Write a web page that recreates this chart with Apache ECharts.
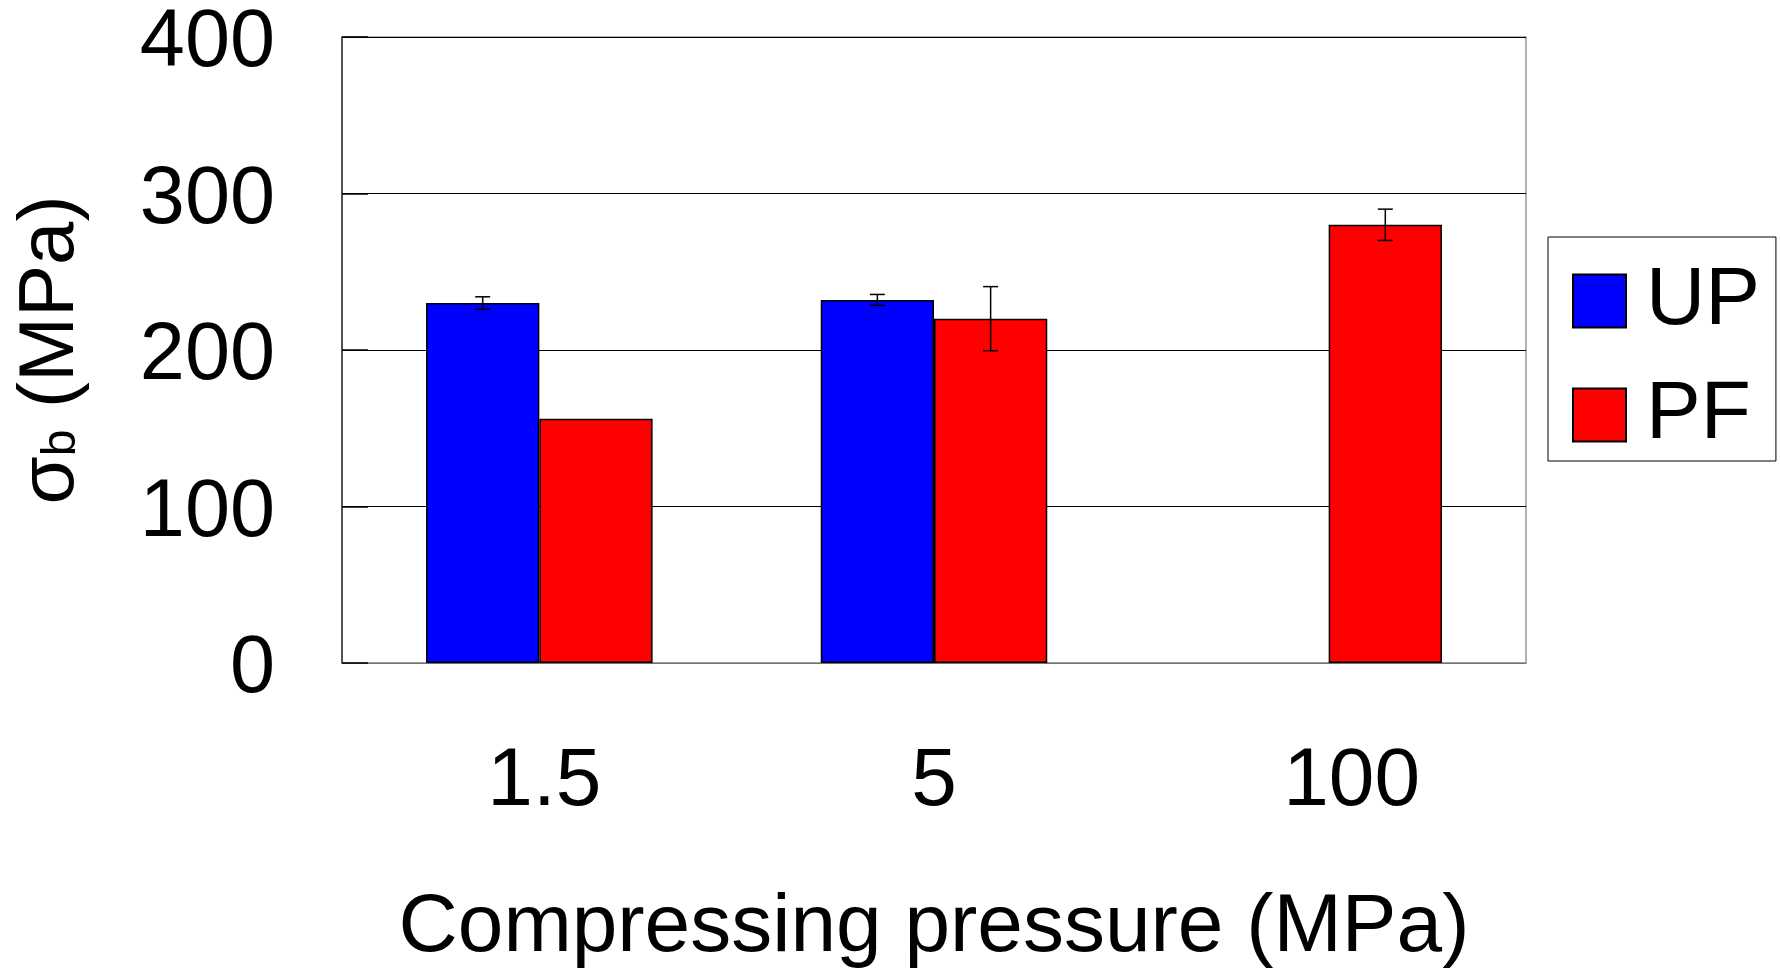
<!DOCTYPE html>
<html>
<head>
<meta charset="utf-8">
<script src="https://cdn.jsdelivr.net/npm/echarts@6/dist/echarts.min.js"></script>
<style>
html,body{margin:0;padding:0;background:#fff;}
#chart{width:1780px;height:968px;}
</style>
</head>
<body>
<div id="chart"></div>
<script>
var categories = ['1.5', '5', '100'];
var upValues = [230, 232, null];
var pfValues = [156, 220, 280];
var upErrors = [4, 3.5, null];
var pfErrors = [null, 20.5, 10];
var yTicks = [0, 100, 200, 300, 400];

var FONT = '"Liberation Sans", Arial, sans-serif';
var catGap = 0.426;

function errorSeries(values, errors, side) {
  var data = [];
  for (var i = 0; i < categories.length; i++) {
    if (values[i] != null && errors[i] != null) {
      data.push([i, values[i] - errors[i], values[i] + errors[i]]);
    }
  }
  return {
    type: 'custom',
    z: 10,
    silent: true,
    data: data,
    renderItem: function (params, api) {
      var idx = api.value(0);
      var band = api.size([1, 0])[0];
      var offset = side * band * (1 - catGap) / 4;
      var lo = api.coord([idx, api.value(1)]);
      var hi = api.coord([idx, api.value(2)]);
      var x = lo[0] + offset;
      var cap = 7.5;
      var st = {stroke: '#000', lineWidth: 1.5};
      return {
        type: 'group',
        children: [
          {type: 'line', shape: {x1: x, y1: lo[1], x2: x, y2: hi[1]}, style: st},
          {type: 'line', shape: {x1: x - cap, y1: lo[1], x2: x + cap, y2: lo[1]}, style: st},
          {type: 'line', shape: {x1: x - cap, y1: hi[1], x2: x + cap, y2: hi[1]}, style: st}
        ]
      };
    }
  };
}

var labelRich = {
  a: {fontSize: 82, fontFamily: FONT, color: '#000', padding: [0, 0, 0, 10]},
  m: {fontSize: 82, fontFamily: FONT, color: '#000'},
  c: {fontSize: 82, fontFamily: FONT, color: '#000', padding: [0, 0, 0, 46]}
};
var labelKey = ['a', 'm', 'c'];

var chart = echarts.init(document.getElementById('chart'), null, {renderer: 'canvas'});
chart.setOption({
  backgroundColor: '#fff',
  animation: false,
  textStyle: {fontFamily: FONT, color: '#000'},
  grid: {
    left: 342, right: 254, top: 37, bottom: 305,
    containLabel: false,
    outerBoundsMode: 'none',
    show: true, borderColor: '#999', borderWidth: 1.5
  },
  legend: {
    orient: 'vertical',
    left: 1548, top: 237,
    padding: [23, 16, 5, 24],
    backgroundColor: '#fff',
    borderColor: '#000',
    borderWidth: 1,
    itemWidth: 53, itemHeight: 53, itemGap: 32,
    icon: 'rect',
    textStyle: {fontSize: 82, fontFamily: FONT, color: '#000', padding: [0, 0, 0, 15]},
    data: ['UP', 'PF']
  },
  xAxis: {
    type: 'category',
    data: categories,
    axisLine: {show: true, lineStyle: {color: '#999', width: 1.5}},
    axisTick: {show: false},
    axisLabel: {
      fontSize: 82, fontFamily: FONT, color: '#000', margin: 78,
      formatter: function (v, i) { return '{' + labelKey[i] + '|' + v + '}'; },
      rich: labelRich
    },
    name: 'Compressing pressure (MPa)',
    nameLocation: 'middle',
    nameGap: 224,
    nameTextStyle: {fontSize: 82, fontFamily: FONT, color: '#000'}
  },
  yAxis: {
    type: 'value',
    min: yTicks[0], max: yTicks[yTicks.length - 1], interval: 100,
    axisLine: {show: true, lineStyle: {color: '#333', width: 1.5}},
    axisTick: {show: true, inside: true, length: 26, lineStyle: {color: '#000', width: 1.5}},
    splitLine: {show: true, lineStyle: {color: '#000', width: 1}},
    axisLabel: {
      fontSize: 81, fontFamily: FONT, color: '#000', margin: 67,
      formatter: function (v) { return '{v|' + v + '}'; },
      rich: {v: {fontSize: 81, fontFamily: FONT, color: '#000', padding: [14, 0, 0, 0]}}
    },
    name: '{s|σ}{b|b} (MPa)',
    nameLocation: 'middle',
    nameGap: 252,
    nameRotate: 90,
    nameTextStyle: {
      fontSize: 78, fontFamily: FONT, color: '#000',
      rich: {
        s: {fontSize: 78, fontFamily: FONT, color: '#000', verticalAlign: 'bottom'},
        b: {fontSize: 48, fontFamily: FONT, color: '#000', verticalAlign: 'bottom', padding: [0, 0, 4, 0]}
      }
    }
  },
  series: [
    {
      name: 'UP', type: 'bar', data: upValues,
      barGap: '0%', barCategoryGap: (catGap * 100) + '%',
      itemStyle: {color: '#0000FF', borderColor: '#000', borderWidth: 1.5}
    },
    {
      name: 'PF', type: 'bar', data: pfValues,
      barGap: '0%', barCategoryGap: (catGap * 100) + '%',
      itemStyle: {color: '#FF0000', borderColor: '#000', borderWidth: 1.5}
    },
    errorSeries(upValues, upErrors, -1),
    errorSeries(pfValues, pfErrors, 1)
  ]
});
</script>
</body>
</html>
